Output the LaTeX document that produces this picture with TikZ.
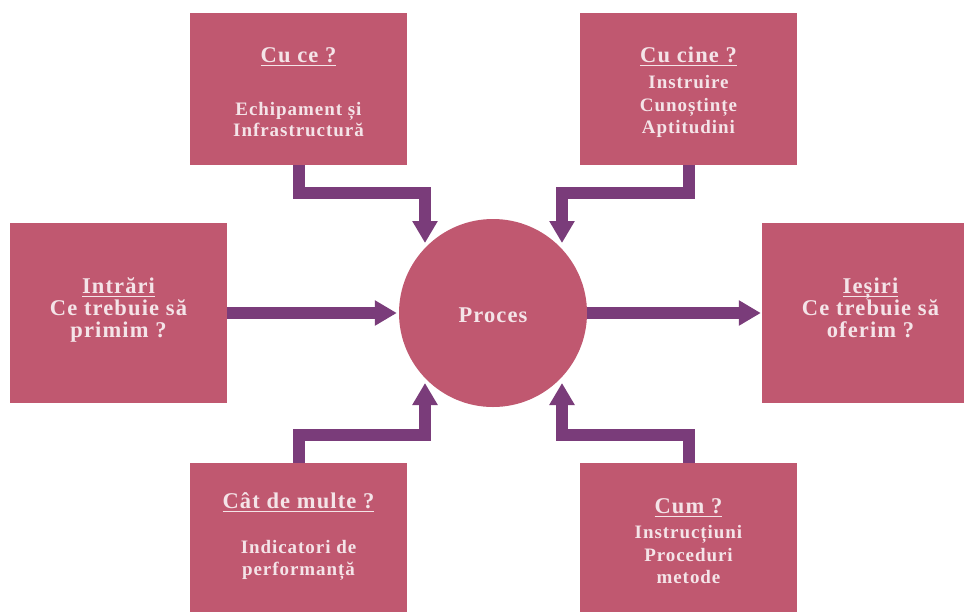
\documentclass[tikz,border=0pt]{standalone}
\usepackage{fontspec}
\setmainfont{Liberation Serif}[LetterSpace=5]
\usetikzlibrary{arrows.meta}
\definecolor{boxfill}{RGB}{192,88,112}
\definecolor{arrowcol}{RGB}{122,60,122}
\definecolor{txtcol}{RGB}{244,228,232}
\newcommand{\myul}[1]{\setbox0\hbox{#1}\rlap{\rule[-3.5pt]{\wd0}{1pt}}\box0}
\tikzset{
  pbox/.style={rectangle, fill=boxfill, draw=none, inner sep=0pt, minimum width=217pt},
  pcirc/.style={circle, fill=boxfill, draw=none, inner sep=0pt, minimum size=188pt},
  conn/.style={draw=arrowcol, line width=12pt, -{Triangle[width=24pt,length=22pt]}},
  bigtxt/.style={anchor=base, inner sep=0pt, text=txtcol, font=\fontsize{22.5}{25}\selectfont\bfseries},
  smalltxt/.style={anchor=base, inner sep=0pt, text=txtcol, font=\fontsize{19}{21}\selectfont\bfseries}
}
\begin{document}
\begin{tikzpicture}[x=1pt,y=-1pt]
\fill[white] (0,0) rectangle (964,611);
\useasboundingbox (0,0) rectangle (964,611);
% boxes
\node[pbox, minimum height=152pt] (cuce) at (298.5,89) {};
\node[pbox, minimum height=152pt] (cucine) at (688.5,89) {};
\node[pbox, minimum height=180pt] (intrari) at (118.5,313) {};
\node[pbox, minimum height=180pt] (iesiri) at (870.5,313) {};
\node[pbox, minimum height=152pt] (catde) at (298.5,539) {};
\node[pbox, minimum height=152pt] (cum) at (688.5,539) {};
\node[pcirc] (proc) at (493,313) {};
% tips
\coordinate (tipTL) at (425,243);
\coordinate (tipTR) at (562,243);
\coordinate (tipBL) at (425,383);
\coordinate (tipBR) at (562,383);
% connectors
\draw[conn] (cuce.south) -- ++(0,28) -| (tipTL);
\draw[conn] (cucine.south) -- ++(0,28) -| (tipTR);
\draw[conn] (catde.north) -- ++(0,-28) -| (tipBL);
\draw[conn] (cum.north) -- ++(0,-28) -| (tipBR);
\draw[conn] (intrari.east) -- ([xshift=-2pt]proc.west);
\draw[conn] (proc.east) -- ([xshift=-1pt]iesiri.west);
% texts
\node[bigtxt] (tproc) at (493,322) {Proces};
\node[bigtxt] (t1a) at (298.5,62) {\myul{Cu ce ?}};
\node[smalltxt] (t1b) at (298.5,115) {Echipament și};
\node[smalltxt] (t1c) at (298.5,136) {Infrastructură};
\node[bigtxt] (t2a) at (688.5,62) {\myul{Cu cine ?}};
\node[smalltxt] (t2b) at (688.5,88) {Instruire};
\node[smalltxt] (t2c) at (688.5,111) {Cunoștințe};
\node[smalltxt] (t2d) at (688.5,133) {Aptitudini};
\node[bigtxt] (t3a) at (118.5,293) {\myul{Intrări}};
\node[bigtxt] (t3b) at (118.5,315) {Ce trebuie să};
\node[bigtxt] (t3c) at (118.5,337) {primim ?};
\node[bigtxt] (t4a) at (870.5,293) {\myul{Ieșiri}};
\node[bigtxt] (t4b) at (870.5,315) {Ce trebuie să};
\node[bigtxt] (t4c) at (870.5,337) {oferim ?};
\node[bigtxt] (t5a) at (298.5,508) {\myul{Cât de multe ?}};
\node[smalltxt] (t5b) at (298.5,553) {Indicatori de};
\node[smalltxt] (t5c) at (298.5,575) {performanță};
\node[bigtxt] (t6a) at (688.5,513) {\myul{Cum ?}};
\node[smalltxt] (t6b) at (688.5,538) {Instrucțiuni};
\node[smalltxt] (t6c) at (688.5,561) {Proceduri};
\node[smalltxt] (t6d) at (688.5,583) {metode};
\end{tikzpicture}
\end{document}
